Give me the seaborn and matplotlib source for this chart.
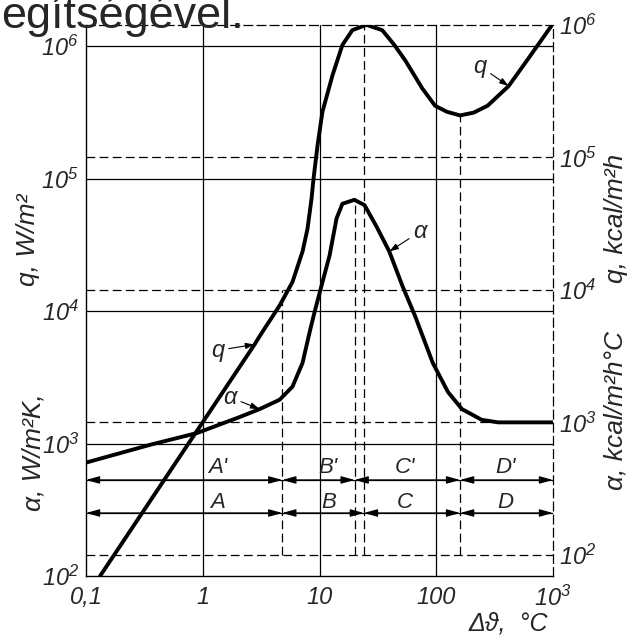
import matplotlib
matplotlib.use('Agg')
import matplotlib.pyplot as plt
import seaborn as sns
from matplotlib.ticker import NullLocator

# q (heat flux, W/m2)
dT_q = [0.132, 1.0, 2.78, 3.07, 4.55, 5.87, 7.16, 7.89, 8.55, 8.89, 9.62, 10.6,
        12.9, 15.7, 19.1, 25.2, 34.5, 43.8, 54.3, 75.9, 97.7, 123, 160, 209,
        275, 417, 617, 1000]
q = [100, 1450, 5600, 6460, 11000, 16600, 28200, 41700, 70800, 1.0e5, 1.78e5,
     3.2e5, 6.0e5, 1.02e6, 1.32e6, 1.45e6, 1.32e6, 1.02e6, 7.8e5, 4.8e5,
     3.55e5, 3.2e5, 3.0e5, 3.15e5, 3.55e5, 5.0e5, 8.1e5, 1.48e6]

# alpha (heat transfer coefficient, W/m2K)
dT_a = [0.1, 0.352, 0.891, 2.07, 3.07, 4.55, 5.87, 7.16, 8.22, 9.06, 10.4, 12.2,
        14.0, 15.7, 19.9, 24.3, 30.7, 39.6, 51.3, 66.1, 93.3, 126, 166, 245,
        339, 1000]
alpha = [718, 977, 1200, 1585, 1820, 2140, 2690, 4070, 6900, 9800, 15500, 26300,
         50100, 64600, 69200, 63100, 43700, 28200, 15500, 9100, 4070, 2450,
         1820, 1510, 1445, 1445]

# regime boundaries (alpha row with primes, q row without)
bounds_a = [0.1, 4.8, 20, 160, 1000]
bounds_q = [0.1, 4.8, 24, 160, 1000]
names_a = ["A'", "B'", "C'", "D'"]
names_q = ["A", "B", "C", "D"]
name_x = [1.34, 11.9, 54, 389]

x_ticks = [0.1, 1, 10, 100, 1000]
x_labels = ['0,1', '1', '10', '100', '$10^{3}$']
w_ticks = [1e2, 1e3, 1e4, 1e5, 1e6]
k_ticks = [1e2, 1e3, 1e4, 1e5, 1e6]
dec_labels = ['$10^{2}$', '$10^{3}$', '$10^{4}$', '$10^{5}$', '$10^{6}$']

KCAL = 1.445  # offset of the kcal scale as drawn in the figure

sns.set_style('white')
plt.rcParams['font.family'] = ['Liberation Sans', 'DejaVu Sans']
plt.rcParams['mathtext.fontset'] = 'custom'
plt.rcParams['mathtext.rm'] = 'Liberation Sans:italic'
plt.rcParams['mathtext.it'] = 'Liberation Sans:italic'

DASH = (0, (7, 3.5))

fig = plt.figure(figsize=(6.36, 6.40), dpi=100)
ax = fig.add_axes([86 / 636, 64 / 640, 467 / 636, 551 / 640])
ax.set_xscale('log')
ax.set_yscale('log')
ax.set_xlim(0.1, 1000)
ax.set_ylim(100, 1e6 * KCAL)

# grid: solid for W and decades of dT, dashed for kcal
for v in [1e3, 1e4, 1e5, 1e6]:
    ax.axhline(v, color='k', lw=0.9)
for v in [1, 10, 100]:
    ax.axvline(v, color='k', lw=0.9)
for v in k_ticks[:-1]:
    ax.axhline(v * KCAL, color='k', lw=0.9, ls=DASH)

# dashed verticals marking the regimes
bottom = k_ticks[0] * KCAL
ax.vlines(bounds_a[1], bottom, k_ticks[2] * KCAL, color='k', lw=0.9, linestyles=[DASH])
ax.vlines(bounds_a[2], bottom, max(alpha), color='k', lw=0.9, linestyles=[DASH])
ax.vlines(bounds_q[2], bottom, 1e6 * KCAL, color='k', lw=0.9, linestyles=[DASH])
ax.vlines(bounds_q[3], bottom, min(q[15:]), color='k', lw=0.9, linestyles=[DASH])

# curves
sns.lineplot(x=dT_q, y=q, ax=ax, color='black', lw=2.8, sort=False, estimator=None)
sns.lineplot(x=dT_a, y=alpha, ax=ax, color='black', lw=2.8, sort=False, estimator=None)

# regime arrows
rows = [(531, 665, bounds_a, names_a), (299, 361, bounds_q, names_q)]
for y_line, y_txt, bnds, names in rows:
    ax.axhline(y_line, color='k', lw=0.9)
    for i in range(len(names)):
        ax.annotate('', xy=(bnds[i + 1], y_line), xytext=(bnds[i], y_line),
                    arrowprops=dict(arrowstyle='<|-|>,head_length=0.9,head_width=0.25',
                                    color='k', lw=0.9, shrinkA=0, shrinkB=0,
                                    mutation_scale=9))
        ax.text(name_x[i], y_txt, names[i], fontsize=16, style='italic',
                ha='center', va='center')

# curve labels with leaders
leader = dict(arrowstyle='-|>,head_length=0.6,head_width=0.2', color='k', lw=0.8,
              shrinkA=1, shrinkB=0, mutation_scale=9)
iq_hi, iq_lo = dT_q.index(417), dT_q.index(2.78)
ia_hi, ia_lo = dT_a.index(39.6), dT_a.index(3.07)
ax.annotate('q', xy=(dT_q[iq_hi], q[iq_hi]), xytext=(-29, 20), textcoords='offset pixels',
            fontsize=17, style='italic', ha='center', va='center', arrowprops=leader)
ax.annotate('q', xy=(dT_q[iq_lo], q[iq_lo]), xytext=(-37, -6), textcoords='offset pixels',
            fontsize=17, style='italic', ha='center', va='center', arrowprops=leader)
ax.annotate('α', xy=(dT_a[ia_hi], alpha[ia_hi]), xytext=(31, 20), textcoords='offset pixels',
            fontsize=17, style='italic', ha='center', va='center', arrowprops=leader)
ax.annotate('α', xy=(dT_a[ia_lo], alpha[ia_lo]), xytext=(-30, 12), textcoords='offset pixels',
            fontsize=17, style='italic', ha='center', va='center', arrowprops=leader)

# axes, ticks
ax.xaxis.set_minor_locator(NullLocator())
ax.yaxis.set_minor_locator(NullLocator())
ax.set_xticks(x_ticks, x_labels)
ax.set_yticks(w_ticks, dec_labels)
ax.tick_params(length=0, labelsize=17)
ax.tick_params(axis='y', pad=5)
ax.tick_params(axis='x', pad=7)
for t in ax.get_xticklabels():
    t.set_style('italic')
for s in ['left', 'bottom']:
    ax.spines[s].set_color('k')
    ax.spines[s].set_linewidth(1.0)
for s in ['top', 'right']:
    ax.spines[s].set_color('k')
    ax.spines[s].set_linewidth(0.9)
    ax.spines[s].set_linestyle(DASH)

sec = ax.secondary_yaxis('right', functions=(lambda w: w / KCAL, lambda k: k * KCAL))
sec.yaxis.set_minor_locator(NullLocator())
sec.set_yticks(k_ticks, dec_labels)
sec.tick_params(length=0, labelsize=17, pad=4)
sec.spines['right'].set_visible(False)

# axis titles
lab = dict(fontsize=19, style='italic', rotation=90, ha='center', va='center')
fig.text(28 / 636, 1 - 240 / 640, 'q, W/m²', **lab)
fig.text(33 / 636, 1 - 452 / 640, 'α, W/m²K,', **lab)
fig.text(616 / 636, 1 - 218 / 640, 'q, kcal/m²h', **lab)
fig.text(616 / 636, 1 - 410 / 640, 'α, kcal/m²h°C', **lab)
fig.text(508 / 636, 1 - 624 / 640, 'Δϑ,  °C', fontsize=18, style='italic',
         ha='center', va='center')

# fragment of the page text above the figure
fig.text(1 / 636, 1 - 28 / 640, 'egítségével.', fontsize=32.4, ha='left', va='baseline')

fig.savefig('out.png', dpi=100)
